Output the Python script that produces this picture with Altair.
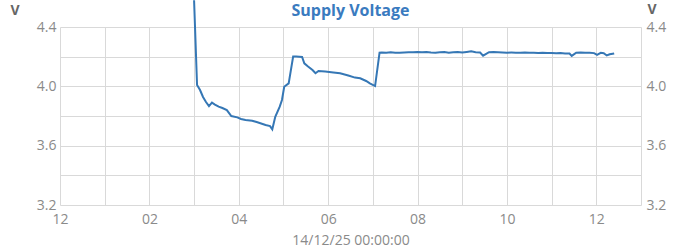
import altair as alt
import pandas as pd

times = [
    "03:00", "03:04", "03:08", "03:12", "03:16", "03:20", "03:24", "03:28", "03:33", "03:38",
    "03:44", "03:47", "03:50", "03:58", "04:03", "04:09", "04:18", "04:24", "04:29", "04:36",
    "04:42", "04:45", "04:49", "04:55", "04:58", "05:01", "05:07", "05:13", "05:17", "05:25",
    "05:28", "05:33", "05:39", "05:43", "05:47", "05:56", "06:07", "06:16", "06:27", "06:36",
    "06:43", "06:51", "06:56", "07:03", "07:09",
    "07:12", "07:18", "07:24", "07:30", "07:36", "07:42", "07:48", "07:54", "08:00", "08:06",
    "08:12", "08:18", "08:24", "08:30", "08:36", "08:42", "08:48", "08:54", "09:00", "09:06",
    "09:12", "09:18", "09:24", "09:28", "09:36", "09:42", "09:48", "09:54", "10:00", "10:06",
    "10:12", "10:18", "10:24", "10:30", "10:36", "10:42", "10:48", "10:54", "11:00", "11:06",
    "11:12", "11:18", "11:24", "11:27", "11:33", "11:39", "11:45", "11:51", "11:57", "12:01",
    "12:06", "12:10", "12:14", "12:18", "12:24",
]
volts = [
    4.580, 4.009, 3.975, 3.928, 3.894, 3.867, 3.890, 3.877, 3.863, 3.854,
    3.840, 3.820, 3.800, 3.791, 3.780, 3.773, 3.768, 3.759, 3.751, 3.739,
    3.732, 3.710, 3.795, 3.863, 3.908, 3.997, 4.020, 4.201, 4.201, 4.198,
    4.155, 4.134, 4.110, 4.088, 4.103, 4.100, 4.093, 4.088, 4.073, 4.059,
    4.054, 4.036, 4.020, 4.002, 4.227,
    4.228, 4.226, 4.229, 4.227, 4.226, 4.228, 4.230, 4.229, 4.231, 4.229,
    4.231, 4.228, 4.226, 4.229, 4.231, 4.227, 4.229, 4.231, 4.228, 4.232,
    4.236, 4.230, 4.228, 4.207, 4.230, 4.232, 4.230, 4.228, 4.226, 4.228,
    4.227, 4.226, 4.228, 4.226, 4.227, 4.225, 4.226, 4.224, 4.225, 4.223,
    4.224, 4.222, 4.221, 4.205, 4.227, 4.228, 4.226, 4.227, 4.224, 4.212,
    4.226, 4.223, 4.208, 4.216, 4.222,
]
y_grid = [3.2, 3.4, 3.6, 3.8, 4.0, 4.2, 4.4]
x_hours = list(range(0, 14))

df = pd.DataFrame({"t": ["2025-12-14T" + s + ":00" for s in times], "v": volts})

FONT = "Open Sans"
LABEL_COLOR = "#8a8a8a"
GRID_COLOR = "#d9d9d9"
LINE_COLOR = "#3577b5"

x_values = [alt.DateTime(year=2025, month=12, date=14, hours=h) for h in x_hours]
x_scale = alt.Scale(domain=[x_values[0], x_values[-1]])
y_scale = alt.Scale(domain=[3.2, 4.4], nice=False, zero=False)
y_label_expr = "round(datum.value*10)%4==0 ? format(datum.value,'.1f') : ''"

x_enc = alt.X(
    "t:T",
    scale=x_scale,
    title="14/12/25 00:00:00",
    axis=alt.Axis(
        values=x_values,
        labelExpr="hours(datum.value)%2==0 ? timeFormat(datum.value,'%I') : ''",
        grid=True, gridColor=GRID_COLOR, gridWidth=1,
        ticks=False, domain=False, labelFlush=False, labelOverlap=False,
        labelPadding=7, labelColor=LABEL_COLOR, labelFontSize=14, labelFont=FONT,
        titleColor=LABEL_COLOR, titleFontSize=14, titleFont=FONT, titleFontWeight="normal",
        titlePadding=7,
    ),
)

left = alt.Chart(df).mark_line(color=LINE_COLOR, strokeWidth=2).encode(
    x=x_enc,
    y=alt.Y(
        "v:Q", scale=y_scale, title="V",
        axis=alt.Axis(
            orient="left", values=y_grid, labelExpr=y_label_expr,
            grid=True, gridColor=GRID_COLOR, gridWidth=1,
            ticks=False, domain=False,
            labelPadding=4, labelColor=LABEL_COLOR, labelFontSize=14, labelFont=FONT,
            title="V", titleAngle=0, titleAlign="left", titleBaseline="middle",
            titleX=-50, titleY=-17, titleColor="#666666", titleFontSize=14,
            titleFont=FONT, titleFontWeight="bold",
        ),
    ),
)

right = alt.Chart(df).mark_line(strokeOpacity=0).encode(
    x=alt.X("t:T", scale=x_scale),
    y=alt.Y(
        "v:Q", scale=y_scale, title="V",
        axis=alt.Axis(
            orient="right", values=y_grid, labelExpr=y_label_expr,
            grid=False, ticks=False, domain=False,
            labelPadding=5, labelColor=LABEL_COLOR, labelFontSize=14, labelFont=FONT,
            title="V", titleAngle=0, titleAlign="left", titleBaseline="middle",
            titleX=6, titleY=-18, titleColor="#666666", titleFontSize=14,
            titleFont=FONT, titleFontWeight="bold",
        ),
    ),
)

chart = (
    alt.layer(left, right)
    .resolve_axis(y="independent")
    .properties(
        width=581,
        height=178,
        autosize=alt.AutoSizeParams(type="none"),
        padding={"left": 60, "top": 27, "right": 59, "bottom": 45},
        title=alt.TitleParams(
            "Supply Voltage", fontSize=16, fontWeight="bold", color="#3a7bbf",
            font=FONT, anchor="middle", frame="group", baseline="alphabetic",
            offset=-36,
        ),
        background="white",
    )
    .configure_view(stroke=None)
)

chart.save("out.html", embed_options={"renderer": "svg", "actions": False})
